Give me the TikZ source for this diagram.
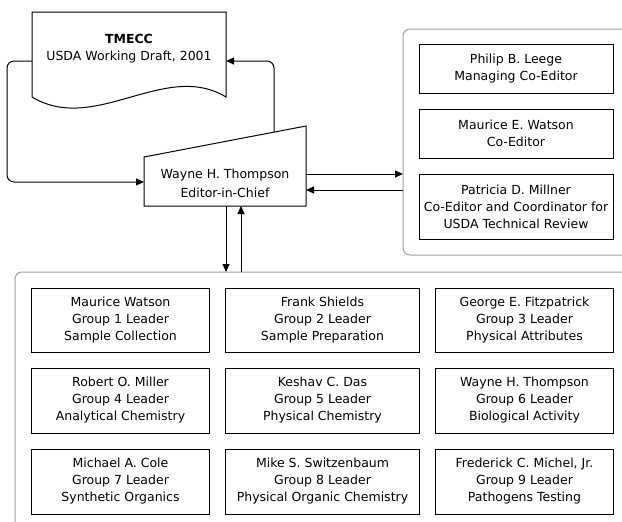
\documentclass[tikz,border=0pt]{standalone}
\usepackage{fontspec}
\setmainfont{DejaVu Sans}
\usetikzlibrary{arrows.meta}
\definecolor{contgray}{HTML}{A0A0A0}
\begin{document}
\begin{tikzpicture}[x=1pt,y=-1pt,
  txt/.style={align=center, inner sep=0pt, font=\fontsize{12.5}{17}\selectfont},
  box/.style={txt, draw=black, line width=1pt, minimum height=64pt},
  cont/.style={draw=contgray, line width=1pt, rounded corners=7pt},
  conn/.style={draw=black, line width=1pt, -{Triangle[length=8pt,width=7pt]}},
  loop/.style={conn, rounded corners=7pt}]
\useasboundingbox (0,0) rectangle (622,522);
\clip (0,0) rectangle (622,522);
% containers
\draw[cont] (403,29) rectangle (650,255);
\draw[cont] (15,272) rectangle (650,560);
% document shape
\draw[line width=1pt] (32,97) -- (32,12) -- (226,12) -- (226,97)
  .. controls (165,60) and (95,135) .. (32,97) -- cycle;
\node[txt] (doc) at (129,48.5) {\textbf{TMECC}\\USDA Working Draft, 2001};
\coordinate (docL) at (32,61);
\coordinate (docR) at (226,61);
% editor (manual input shape)
\draw[line width=1pt] (144,157) -- (306,126) -- (306,206) -- (144,206) -- cycle;
\node[txt, font=\fontsize{12.5}{19}\selectfont] (editor) at (225,183) {Wayne H. Thompson\\Editor-in-Chief};
\coordinate (edL) at (144,182);
\coordinate (edT) at (274,132);
\coordinate (edR1) at (306,174);
\coordinate (edR2) at (306,190);
\coordinate (edB1) at (226,206);
\coordinate (edB2) at (241,206);
\coordinate (rcL1) at (403,174);
\coordinate (rcL2) at (403,190);
\coordinate (bcT1) at (226,272);
\coordinate (bcT2) at (241,272);
% right boxes
\node[box, minimum width=194pt, minimum height=49pt] (pl) at (516,68.5) {Philip B. Leege\\Managing Co-Editor};
\node[box, minimum width=194pt, minimum height=49pt] (mw) at (516,133.5) {Maurice E. Watson\\Co-Editor};
\node[box, minimum width=194pt, minimum height=65pt] (pm) at (516,206.5) {Patricia D. Millner\\Co-Editor and Coordinator for\\USDA Technical Review};
% grid boxes
\node[box, minimum width=177.5pt] (g1) at (120.5,320) {Maurice Watson\\Group 1 Leader\\Sample Collection};
\node[box, minimum width=193.5pt] (g2) at (322.5,320) {Frank Shields\\Group 2 Leader\\Sample Preparation};
\node[box, minimum width=178.5pt] (g3) at (524.5,320) {George E. Fitzpatrick\\Group 3 Leader\\Physical Attributes};
\node[box, minimum width=177.5pt, minimum height=65pt] (g4) at (120.5,400.5) {Robert O. Miller\\Group 4 Leader\\Analytical Chemistry};
\node[box, minimum width=193.5pt, minimum height=65pt] (g5) at (322.5,400.5) {Keshav C. Das\\Group 5 Leader\\Physical Chemistry};
\node[box, minimum width=178.5pt, minimum height=65pt] (g6) at (524.5,400.5) {Wayne H. Thompson\\Group 6 Leader\\Biological Activity};
\node[box, minimum width=177.5pt, minimum height=65pt] (g7) at (120.5,481.5) {Michael A. Cole\\Group 7 Leader\\Synthetic Organics};
\node[box, minimum width=193.5pt, minimum height=65pt] (g8) at (322.5,481.5) {Mike S. Switzenbaum\\Group 8 Leader\\Physical Organic Chemistry};
\node[box, minimum width=178.5pt, minimum height=65pt] (g9) at (524.5,481.5) {Frederick C. Michel, Jr.\\Group 9 Leader\\Pathogens Testing};
% connectors
\draw[loop] (docL) -- (7,61) -- (7,182) -- (edL);
\draw[loop] (edT) -- (274,61) -- (docR);
\draw[conn] (edR1) -- (rcL1);
\draw[conn] (rcL2) -- (edR2);
\draw[conn] (edB1) -- (bcT1);
\draw[conn] (bcT2) -- (edB2);
\end{tikzpicture}
\end{document}
